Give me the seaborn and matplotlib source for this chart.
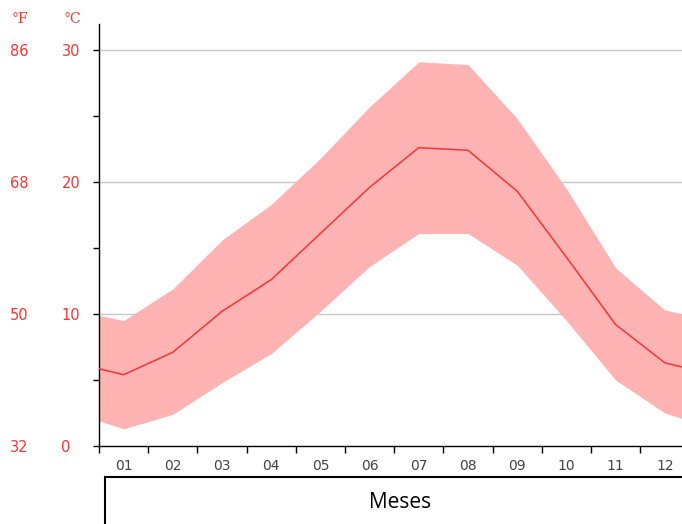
import numpy as np
import pandas as pd
import seaborn as sns
import matplotlib.pyplot as plt
from matplotlib.patches import Rectangle
from matplotlib.ticker import MultipleLocator, FixedLocator

# Monthly temperatures (°C)
months = ["01", "02", "03", "04", "05", "06", "07", "08", "09", "10", "11", "12"]
temp_mean = [5.4, 7.1, 10.2, 12.6, 16.1, 19.6, 22.6, 22.4, 19.3, 14.3, 9.2, 6.3]
temp_max = [9.5, 11.9, 15.6, 18.3, 21.8, 25.7, 29.1, 28.9, 24.8, 19.5, 13.5, 10.3]
temp_min = [1.3, 2.4, 4.8, 7.0, 10.2, 13.6, 16.1, 16.1, 13.7, 9.5, 5.0, 2.5]

df = pd.DataFrame({"month": np.arange(1, 13), "mean": temp_mean,
                   "max": temp_max, "min": temp_min})

# wrap around the year so the band reaches the plot edges
edge = df.iloc[[0, -1]][["mean", "max", "min"]].mean()
ext = pd.concat([pd.DataFrame([{"month": 0.5, **edge}]), df,
                 pd.DataFrame([{"month": 12.5, **edge}])], ignore_index=True)

sns.set_style("white")
plt.rcParams["font.family"] = ["DejaVu Sans"]

W, H = 682, 524
fig = plt.figure(figsize=(W / 100, H / 100), dpi=100)
ax = fig.add_axes([99 / W, (H - 446) / H, 590.4 / W, (446 - 23.6) / H])

red = "#ff3333"
ax.fill_between(ext["month"], ext["min"], ext["max"], color="#ffb3b3", lw=0, zorder=1)
sns.lineplot(data=ext, x="month", y="mean", color=red, lw=1.1, ax=ax, zorder=3)

ax.set_xlim(0.5, 12.5)
ax.set_ylim(0, 32)
for v in [10, 20, 30]:
    ax.axhline(v, color="#c8c8c8", lw=1, zorder=0)

for s in ["top", "right"]:
    ax.spines[s].set_visible(False)
for s in ["left", "bottom"]:
    ax.spines[s].set_color("black")
    ax.spines[s].set_linewidth(1)

ax.set_xticks(df["month"])
ax.set_xticklabels(months)
ax.xaxis.set_minor_locator(FixedLocator(np.arange(0.5, 13, 1)))
ax.tick_params(axis="x", which="major", length=0, pad=9, labelsize=10, labelcolor="#444444")
ax.tick_params(axis="x", which="minor", length=5, width=1, color="black", direction="out", bottom=True)

ax.set_yticks([0, 10, 20, 30])
ax.yaxis.set_minor_locator(MultipleLocator(5))
ax.tick_params(axis="y", which="major", length=4, width=1, color="black", pad=23,
               labelsize=10.5, labelcolor=red, left=True)
ax.tick_params(axis="y", which="minor", length=4, width=1, color="black", left=True)
for lab in ax.get_yticklabels():
    lab.set_horizontalalignment("left")
ax.set_xlabel("")
ax.set_ylabel("")

# Fahrenheit scale
axf = ax.secondary_yaxis(0, functions=(lambda c: c * 9 / 5 + 32, lambda f: (f - 32) * 5 / 9))
axf.set_yticks([32, 50, 68, 86])
axf.spines["left"].set_visible(False)
axf.tick_params(length=0, pad=64, labelsize=10.5, labelcolor=red)
for lab in axf.get_yticklabels():
    lab.set_horizontalalignment("left")

fig.text(12 / W, 1 - 19 / H, "°F", color=red, fontsize=10, family="DejaVu Serif",
         va="center", ha="left")
fig.text(64 / W, 1 - 19 / H, "°C", color=red, fontsize=10, family="DejaVu Serif",
         va="center", ha="left")

# x-axis title box
fig.patches.append(Rectangle((105 / W, -0.1), 590 / W, 0.1 + (H - 477) / H,
                             transform=fig.transFigure, fill=False, ec="black", lw=1.5))
fig.text(400 / W, 1 - 502 / H, "Meses", fontsize=15, family=["Open Sans", "DejaVu Sans"],
         ha="center", va="center", color="black")

fig.savefig("out.png", dpi=100)
